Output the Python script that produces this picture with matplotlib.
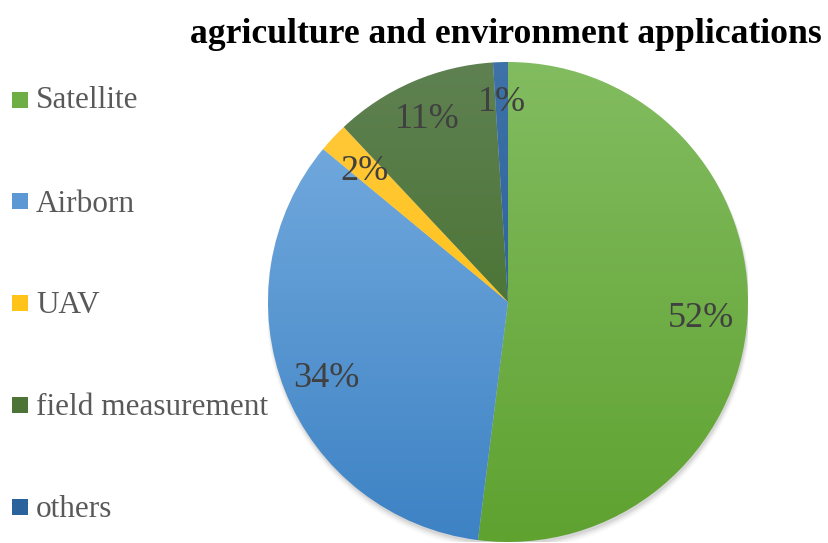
import numpy as np
import matplotlib
matplotlib.use("Agg")
import matplotlib.pyplot as plt
from matplotlib.colors import LinearSegmentedColormap
from matplotlib.patches import Rectangle, Circle

categories = ["Satellite", "Airborn", "UAV", "field measurement", "others"]
shares = [52, 34, 2, 11, 1]
top_colors = ["#82BC60", "#7BB0E2", "#FFC93F", "#5F8152", "#3E72A8"]
bottom_colors = ["#5FA230", "#3D82C4", "#FFBF00", "#3B6A1C", "#1D5893"]
legend_colors = ["#6EAE45", "#5B98D4", "#FFC31A", "#4B7436", "#2A639C"]
title = "agriculture and environment applications"

# radial distance of each percentage label (fraction of the radius)
label_radius = [0.807, 0.815, 0.823, 0.85, 0.85]

W, H, DPI = 829, 543, 100
fig = plt.figure(figsize=(W / DPI, H / DPI), dpi=DPI)
fig.patch.set_facecolor("white")

serif = ["Liberation Serif", "DejaVu Serif"]

cx, cy, r = 508, 302, 240
ax = fig.add_axes([(cx - r) / W, (H - cy - r) / H, 2 * r / W, 2 * r / H])

# soft shadow under the pie
for i, a in enumerate(np.linspace(0.05, 0.015, 5)):
    ax.add_patch(Circle((0.004, -0.012 - 0.003 * i), 1.0 + 0.003 * i,
                        facecolor="black", alpha=a, lw=0, zorder=0.5))

wedges, _ = ax.pie(
    shares, startangle=90, counterclock=False, radius=1.0,
    wedgeprops=dict(linewidth=0, edgecolor="none"),
)
ax.set_xlim(-1, 1)
ax.set_ylim(-1, 1)
ax.set_aspect("equal")
ax.axis("off")

grad = np.linspace(1, 0, 256).reshape(-1, 1)
for w, tc, bc in zip(wedges, top_colors, bottom_colors):
    w.set_facecolor("none")
    cmap = LinearSegmentedColormap.from_list("g", [bc, tc])
    im = ax.imshow(grad, cmap=cmap, extent=(-1, 1, -1, 1), origin="upper",
                   aspect="auto", zorder=1)
    im.set_clip_path(w)

# percentage labels placed along each wedge's bisector
total = sum(shares)
for w, v, rad in zip(wedges, shares, label_radius):
    mid = np.deg2rad((w.theta1 + w.theta2) / 2)
    x, y = rad * np.cos(mid), rad * np.sin(mid)
    ax.text(x, y - 0.055, f"{100 * v / total:.0f}%", fontsize=26,
            color="#404040", family=serif, ha="center", va="baseline",
            zorder=3)

# legend on the left
legend_mark = [100, 201, 303, 405, 507]
legend_base = [108, 212, 313, 415, 517]
for name, col, ym, yb in zip(categories, legend_colors, legend_mark, legend_base):
    fig.patches.append(Rectangle((12 / W, (H - ym - 8) / H), 16 / W, 16 / H,
                                 transform=fig.transFigure, facecolor=col,
                                 edgecolor="none"))
    fig.text(36 / W, (H - yb) / H, name, fontsize=22.5, color="#595959",
             family=serif, va="baseline", ha="left")

fig.text(506 / W, (H - 43) / H, title, fontsize=25.7, fontweight="bold",
         color="black", family=serif, ha="center", va="baseline")

fig.savefig("out.png", dpi=DPI, facecolor="white")
